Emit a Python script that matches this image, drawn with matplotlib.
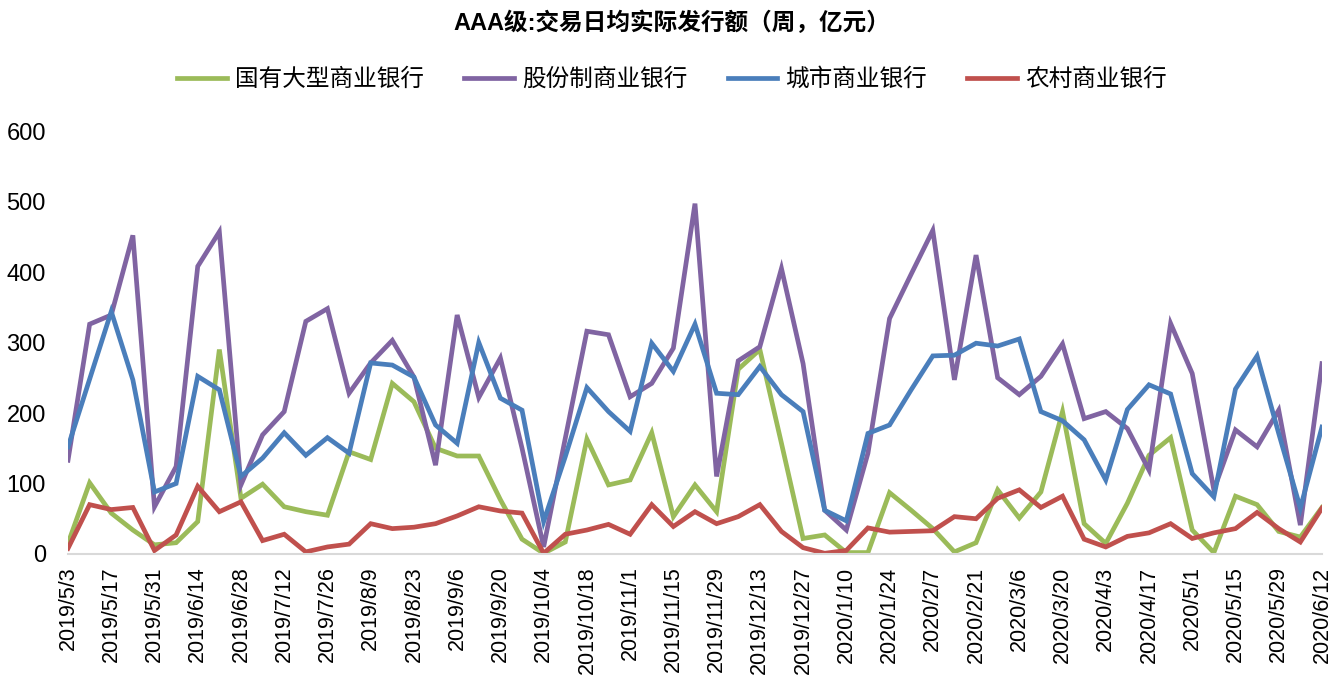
import matplotlib
matplotlib.use("Agg")
from matplotlib import pyplot as plt
import pandas as pd

plt.rcParams['font.family'] = ['Liberation Sans', 'Noto Sans CJK SC', 'DejaVu Sans']

# weekly dates, 2019/5/3 .. 2020/6/12
dates = pd.date_range("2019-05-03", periods=59, freq="7D")
labels = [f"{d.year}/{d.month}/{d.day}" for d in dates]

# 国有大型商业银行
big_state = [15, 101, 58, 34, 13, 16, 46, 290, 79, 99, 67, 60, 55, 145,
             134, 242, 216, 150, 139, 139, 77, 21, 1, 17, 163, 98, 105, 172, 53,
             98, 60, 262, 290, 157, 22, 27, 2, 2, 87, 62, 36, 3, 16, 91,
             51, 88, 202, 43, 15, 72, 140, 165, 34, 2, 82, 70, 32, 24, 66]
# 股份制商业银行
joint_stock = [133, 326, 339, 452, 67, 124, 408, 457, 98, 169, 202, 330, 348, 228,
               271, 303, 251, 126, 339, 222, 278, 150, 10, 164, 316, 311, 223, 242, 292,
               497, 110, 274, 294, 405, 270, 62, 34, 143, 334, 397, 459, 247, 424, 250,
               226, 252, 298, 192, 202, 178, 119, 327, 256, 91, 176, 152, 204, 41, 270]
# 城市商业银行
city = [152, 248, 344, 247, 88, 100, 252, 233, 110, 136, 172, 140, 165, 143,
        271, 268, 251, 183, 157, 300, 221, 204, 46, 138, 236, 202, 174, 299, 259,
        326, 228, 226, 266, 226, 202, 62, 47, 171, 183, 233, 281, 282, 299, 295,
        305, 202, 189, 162, 105, 205, 240, 227, 114, 81, 234, 281, 171, 65, 180]
# 农村商业银行
rural = [8, 70, 63, 66, 5, 27, 96, 60, 74, 19, 28, 3, 10, 14,
         43, 36, 38, 43, 54, 67, 61, 58, 1, 28, 34, 42, 28, 70, 39,
         60, 43, 53, 70, 32, 9, 1, 5, 37, 31, 32, 33, 53, 50, 79,
         91, 66, 82, 21, 10, 25, 30, 43, 22, 30, 36, 59, 36, 17, 65]

series = [
    ("国有大型商业银行", big_state, "#9BBB59"),
    ("股份制商业银行", joint_stock, "#8064A2"),
    ("城市商业银行", city, "#4A7EBB"),
    ("农村商业银行", rural, "#C0504D"),
]

fig = plt.figure(figsize=(13.44, 6.87), dpi=100)
ax = fig.add_axes([0.0506, 0.1936, 0.933, 0.6157])

x = list(range(len(dates)))
for name, vals, color in series:
    ax.plot(x, vals, color=color, linewidth=3.4, label=name, solid_joinstyle='miter')

ax.set_xlim(0, len(dates) - 1)
ax.set_ylim(0, 600)
ax.set_yticks(range(0, 601, 100))
ax.set_xticks(x[::2])
ax.set_xticklabels(labels[::2], rotation=90, fontsize=15.5)
ax.tick_params(axis='y', labelsize=17, length=0, pad=16)
ax.tick_params(axis='x', length=0, pad=9)

for s in ['top', 'right', 'left']:
    ax.spines[s].set_visible(False)
ax.spines['bottom'].set_color('#D9D9D9')
ax.spines['bottom'].set_linewidth(1.5)

fig.text(0.5, 0.966, "AAA级:交易日均实际发行额（周，亿元）", ha='center', va='center',
         fontsize=17, fontweight='bold')
leg = fig.legend(loc='center', bbox_to_anchor=(0.5, 0.884), ncol=4, frameon=False,
                 prop={'family': ['Noto Sans CJK SC'], 'size': 17},
                 handlelength=2.1, columnspacing=1.7, handletextpad=0.35)

fig.savefig("out.png", dpi=100)
